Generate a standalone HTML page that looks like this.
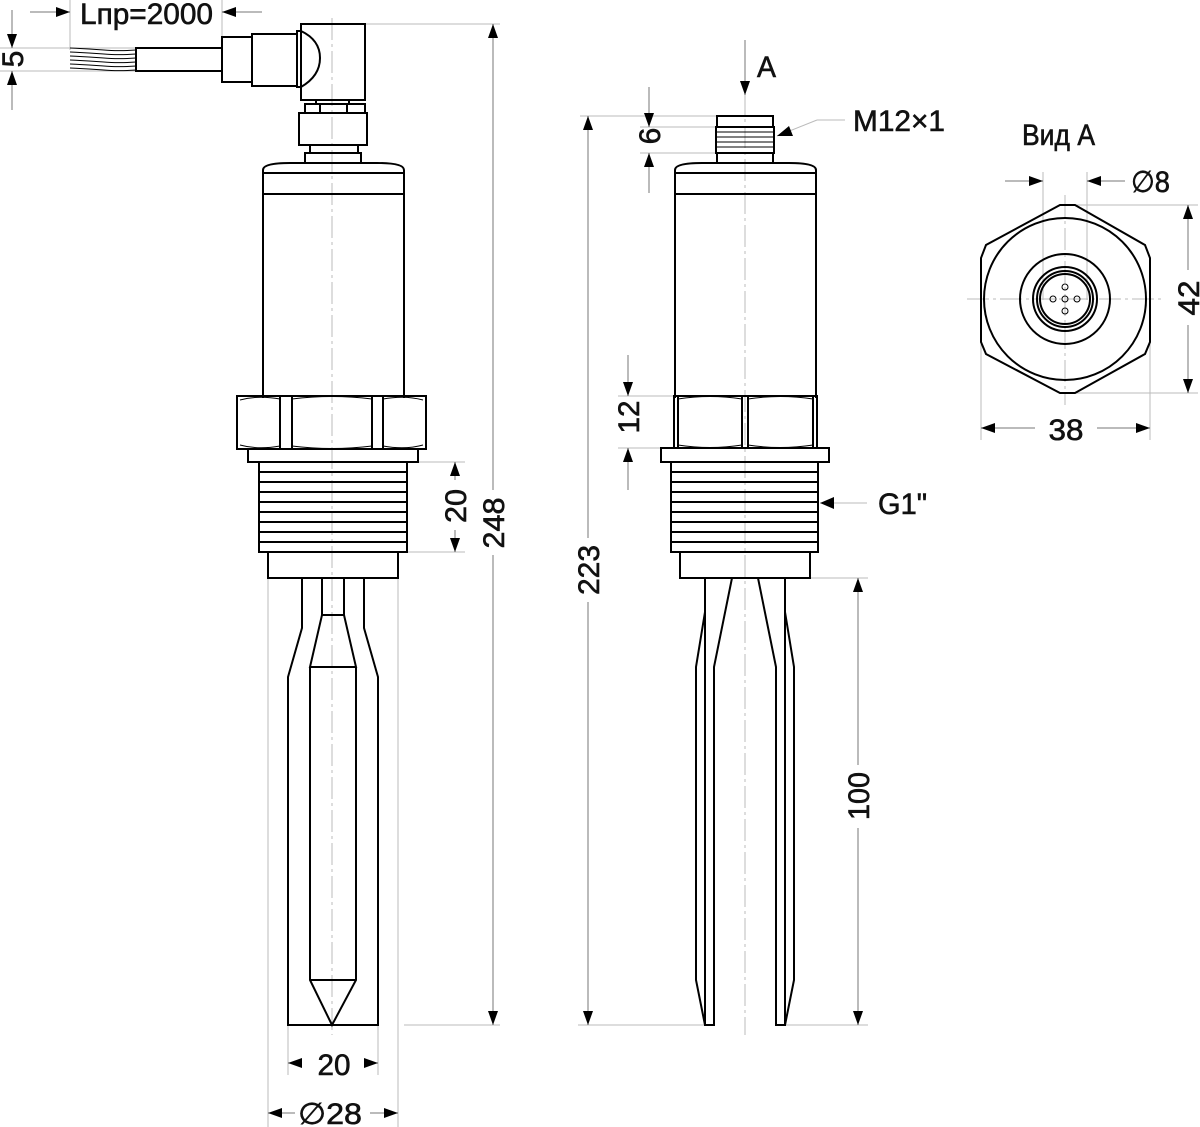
<!DOCTYPE html>
<html><head><meta charset="utf-8"><style>
html,body{margin:0;padding:0;background:#fff;}
svg{display:block;}
text{font-family:"Liberation Sans",sans-serif;font-size:30px;fill:#111;stroke:#111;stroke-width:0.6;}
</style></head><body>
<svg width="1200" height="1127" viewBox="0 0 1200 1127" xmlns="http://www.w3.org/2000/svg">
<defs>
<marker id="ar" viewBox="0 0 14 10" refX="14" refY="5" markerWidth="14" markerHeight="10" markerUnits="userSpaceOnUse" orient="auto"><path d="M0,0 L14,5 L0,10 z" fill="#000" stroke="none"/></marker>
</defs>
<g fill="none" stroke="#bbb" stroke-width="1">
<line x1="70" y1="0" x2="70" y2="50"/><line x1="222" y1="0" x2="222" y2="40"/>
<line x1="0" y1="48" x2="136" y2="48"/><line x1="0" y1="71" x2="136" y2="71"/>
<line x1="365" y1="24" x2="500" y2="24"/>
<line x1="404" y1="1025" x2="500" y2="1025"/>
<line x1="407" y1="462" x2="465" y2="462"/><line x1="407" y1="552" x2="465" y2="552"/>
<line x1="268" y1="578" x2="268" y2="1127"/><line x1="398" y1="578" x2="398" y2="1127"/>
<line x1="288" y1="1025" x2="288" y2="1075"/><line x1="378" y1="1025" x2="378" y2="1075"/>
<line x1="580" y1="116" x2="716" y2="116"/><line x1="640" y1="127" x2="716" y2="127"/><line x1="640" y1="153" x2="716" y2="153"/>
<line x1="578" y1="1025" x2="705" y2="1025"/><line x1="785" y1="1025" x2="868" y2="1025"/>
<line x1="810" y1="578" x2="868" y2="578"/>
<line x1="618" y1="396" x2="674" y2="396"/><line x1="618" y1="448" x2="661" y2="448"/>
<line x1="1043" y1="172" x2="1043" y2="300"/><line x1="1087" y1="172" x2="1087" y2="300"/>
<line x1="1065" y1="205" x2="1198" y2="205"/><line x1="1065" y1="393" x2="1198" y2="393"/>
<line x1="981" y1="300" x2="981" y2="440"/><line x1="1150" y1="300" x2="1150" y2="440"/>
<line x1="777" y1="136" x2="817" y2="120"/><line x1="817" y1="120" x2="845" y2="120"/>
<line x1="820" y1="503" x2="867" y2="503"/>
<g stroke-dasharray="22,4,3,4"><line x1="332" y1="18" x2="332" y2="1035"/><line x1="745" y1="60" x2="745" y2="1035"/>
<line x1="1065" y1="195" x2="1065" y2="405"/><line x1="967" y1="299" x2="1163" y2="299"/></g>
</g>
<g stroke="#777" stroke-width="1" fill="none">
<line x1="30" y1="12" x2="70" y2="12" marker-end="url(#ar)"/><line x1="262" y1="12" x2="222" y2="12" marker-end="url(#ar)"/>
<line x1="12" y1="10" x2="12" y2="48" marker-end="url(#ar)"/><line x1="12" y1="110" x2="12" y2="71" marker-end="url(#ar)"/>
<line x1="493" y1="490" x2="493" y2="24" marker-end="url(#ar)"/><line x1="493" y1="555" x2="493" y2="1025" marker-end="url(#ar)"/>
<line x1="455" y1="480" x2="455" y2="462" marker-end="url(#ar)"/><line x1="455" y1="530" x2="455" y2="552" marker-end="url(#ar)"/>
<line x1="300" y1="1063" x2="288" y2="1063" marker-end="url(#ar)"/><line x1="366" y1="1063" x2="378" y2="1063" marker-end="url(#ar)"/>
<line x1="295" y1="1113" x2="268" y2="1113" marker-end="url(#ar)"/><line x1="370" y1="1113" x2="398" y2="1113" marker-end="url(#ar)"/>
<line x1="745" y1="40" x2="745" y2="95" marker-end="url(#ar)"/>
<line x1="649" y1="87" x2="649" y2="127" marker-end="url(#ar)"/><line x1="649" y1="193" x2="649" y2="153" marker-end="url(#ar)"/>
<line x1="588" y1="538" x2="588" y2="116" marker-end="url(#ar)"/><line x1="588" y1="602" x2="588" y2="1025" marker-end="url(#ar)"/>
<line x1="628" y1="355" x2="628" y2="396" marker-end="url(#ar)"/><line x1="628" y1="490" x2="628" y2="448" marker-end="url(#ar)"/>
<line x1="858" y1="765" x2="858" y2="578" marker-end="url(#ar)"/><line x1="858" y1="828" x2="858" y2="1025" marker-end="url(#ar)"/>
<line x1="1005" y1="181" x2="1043" y2="181" marker-end="url(#ar)"/><line x1="1125" y1="181" x2="1087" y2="181" marker-end="url(#ar)"/>
<line x1="1188" y1="270" x2="1188" y2="205" marker-end="url(#ar)"/><line x1="1188" y1="325" x2="1188" y2="393" marker-end="url(#ar)"/>
<line x1="1035" y1="428" x2="981" y2="428" marker-end="url(#ar)"/><line x1="1097" y1="428" x2="1150" y2="428" marker-end="url(#ar)"/>
</g>
<path d="M777,136 l12,-10 l4,10z" fill="#000"/>
<path d="M820,503 l14,-6 l0,12z" fill="#000"/>
<g stroke="#000" stroke-width="2" fill="none">
<g stroke-width="1">
<path d="M70,48 C100,49 110,52 136,50"/><path d="M70,52 C100,53 110,56 136,54"/><path d="M70,56 C100,57 110,60 136,58"/>
<path d="M70,60 C100,61 110,64 136,62"/><path d="M70,64 C100,65 110,68 136,66"/><path d="M70,68 C100,69 110,72 136,70"/>
</g>
<rect x="136" y="48" width="86" height="23"/>
<rect x="222" y="37" width="30" height="45"/>
<rect x="252" y="34" width="45" height="52"/>
<path d="M297,31 L301,31 Q320,40 320,58 Q320,76 301,87 L297,87 z"/>
<rect x="301" y="24" width="64" height="76"/>
<rect x="316" y="100" width="33" height="4"/>
<rect x="305" y="104" width="60" height="9"/><line x1="320" y1="104" x2="320" y2="113"/><line x1="347" y1="104" x2="347" y2="113"/>
<rect x="299" y="113" width="68" height="32"/>
<rect x="310" y="145" width="48" height="8"/>
<rect x="305" y="153" width="56" height="10"/>
<path d="M263,398 L263,170 Q263,163 290,163 L377,163 Q404,163 404,170 L404,398"/>
<line x1="263" y1="173" x2="404" y2="173"/><line x1="263" y1="194" x2="404" y2="194"/>
<rect x="237" y="396" width="189" height="53"/>
<path d="M280,396 v53 M292,396 v53 M372,396 v53 M383,396 v53"/>
<path d="M240,400 Q258,395 280,399 M292,399 Q332,394 372,399 M383,399 Q405,395 423,400 M240,445 Q258,450 280,446 M292,446 Q332,451 372,446 M383,446 Q405,450 423,445" stroke-width="1"/>
<rect x="248" y="449" width="170" height="13"/>
<rect x="259" y="462" width="148" height="90"/>
<path d="M259,472h148M259,482h148M259,492h148M259,502h148M259,512h148M259,522h148M259,532h148M259,542h148"/>
<rect x="268" y="552" width="130" height="26"/>
<path d="M302,578 V628 L288,677 V1025 H378 V677 L364,628 V578"/>
<path d="M322,578 V615 H344 V578 M322,615 L310,667 H356 L344,615 M310,667 V980 L332,1025 L356,980 V667 M310,980 H356"/>
</g>
<g stroke="#000" stroke-width="2" fill="none">
<rect x="717" y="116" width="56" height="11"/>
<rect x="716" y="127" width="58" height="26"/>
<path d="M716,132h58M716,137h58M716,142h58M716,147h58" stroke-width="1"/>
<rect x="717" y="153" width="56" height="10"/>
<path d="M675,398 L675,170 Q675,163 702,163 L789,163 Q816,163 816,170 L816,398"/>
<line x1="675" y1="173" x2="816" y2="173"/><line x1="675" y1="194" x2="816" y2="194"/>
<rect x="674" y="396" width="143" height="52"/>
<path d="M678,396v52 M742,396v52 M748,396v52 M813,396v52"/>
<path d="M678,399 Q710,394 742,399 M748,399 Q780,394 813,399 M678,445 Q710,450 742,445 M748,445 Q780,450 813,445" stroke-width="1"/>
<rect x="661" y="448" width="168" height="14"/>
<rect x="671" y="462" width="147" height="90"/>
<path d="M671,472h147M671,482h147M671,492h147M671,502h147M671,512h147M671,522h147M671,532h147M671,542h147"/>
<rect x="680" y="552" width="130" height="26"/>
<path d="M705,578 V1025 H714 V667 L732,578 M705,612 L696,667 V980 L705,1025"/>
<path d="M785,578 V1025 H776 V667 L758,578 M785,612 L794,667 V980 L785,1025"/>
</g>
<g stroke="#000" stroke-width="2" fill="none">
<path d="M1060,205 H1075 L1145,245 L1150,258 V342 L1145,354 L1075,393 H1060 L986,354 L981,342 V258 L986,245 z"/>
<circle cx="1065" cy="299" r="81"/>
<circle cx="1065" cy="299" r="45"/>
<circle cx="1065" cy="299" r="32"/><circle cx="1065" cy="299" r="28"/><circle cx="1065" cy="299" r="25"/>
<g stroke-width="1"><circle cx="1065" cy="287" r="3"/><circle cx="1065" cy="311" r="3"/><circle cx="1053" cy="299" r="3"/><circle cx="1077" cy="299" r="3"/><circle cx="1065" cy="299" r="3"/></g>
</g>
<text x="80" y="24" textLength="133" lengthAdjust="spacingAndGlyphs">Lпр=2000</text>
<text transform="translate(23,59) rotate(-90)" text-anchor="middle">5</text>
<text transform="translate(504,523) rotate(-90)" text-anchor="middle" textLength="51" lengthAdjust="spacingAndGlyphs">248</text>
<text transform="translate(466,506) rotate(-90)" text-anchor="middle" textLength="34" lengthAdjust="spacingAndGlyphs">20</text>
<text x="334" y="1075" text-anchor="middle" textLength="33" lengthAdjust="spacingAndGlyphs">20</text>
<text x="330" y="1124" text-anchor="middle" textLength="64" lengthAdjust="spacingAndGlyphs">∅28</text>
<text x="757" y="77" textLength="19" lengthAdjust="spacingAndGlyphs">A</text>
<text x="853" y="131" textLength="92" lengthAdjust="spacingAndGlyphs">M12×1</text>
<text transform="translate(660,136) rotate(-90)" text-anchor="middle">6</text>
<text transform="translate(599,570) rotate(-90)" text-anchor="middle" textLength="50" lengthAdjust="spacingAndGlyphs">223</text>
<text transform="translate(639,417) rotate(-90)" text-anchor="middle" textLength="33" lengthAdjust="spacingAndGlyphs">12</text>
<text x="878" y="514" textLength="49" lengthAdjust="spacingAndGlyphs">G1"</text>
<text transform="translate(869,796) rotate(-90)" text-anchor="middle" textLength="48" lengthAdjust="spacingAndGlyphs">100</text>
<text x="1022" y="145" textLength="73" lengthAdjust="spacingAndGlyphs">Вид А</text>
<text x="1131" y="192" textLength="39" lengthAdjust="spacingAndGlyphs">∅8</text>
<text transform="translate(1199,298) rotate(-90)" text-anchor="middle" textLength="35" lengthAdjust="spacingAndGlyphs">42</text>
<text x="1066" y="440" text-anchor="middle" textLength="35" lengthAdjust="spacingAndGlyphs">38</text>
</svg>
</body></html>
